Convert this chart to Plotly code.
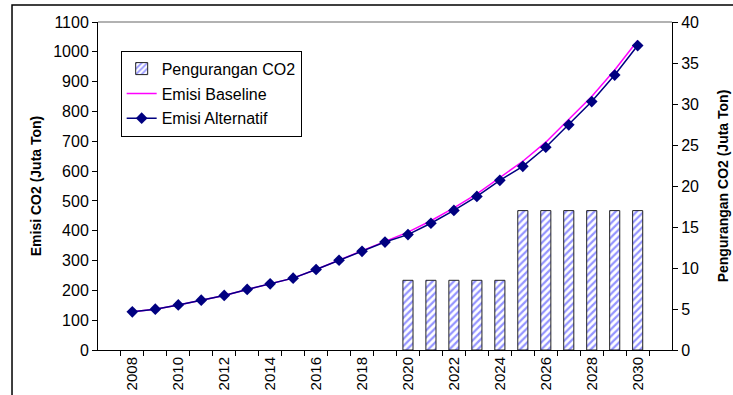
import plotly.graph_objects as go

years = [str(y) for y in range(2008, 2031)]

# Emisi CO2 (juta ton)
emisi_alternatif = [128, 137, 151, 167, 183, 203, 222, 241, 270, 301, 331, 362,
                    387, 425, 468, 515, 569, 616, 680, 755, 833, 922, 1021]
emisi_baseline = [128, 137, 151, 167, 183, 203, 222, 241, 270, 301, 331, 362,
                  395.5, 433.5, 476.5, 523.5, 577.5, 633, 697, 772, 850, 939, 1038]

# Pengurangan CO2 (juta ton), only from 2020 onwards
pengurangan = [None] * 12 + [8.5, 8.5, 8.5, 8.5, 8.5, 17, 17, 17, 17, 17, 17]

tick_text = [y if int(y) % 2 == 0 else "" for y in years]

FONT = "Liberation Sans, Arial, sans-serif"

fig = go.Figure()

fig.add_trace(go.Bar(
    x=years, y=pengurangan, name="Pengurangan CO2", yaxis="y2",
    width=0.44,
    marker=dict(
        color="white",
        line=dict(color="#222222", width=1),
        pattern=dict(shape="/", fgcolor="#2a2aff", bgcolor="white",
                     size=5, solidity=0.45),
    ),
    legendgroup="a",
))
fig.add_trace(go.Scatter(
    x=years, y=emisi_baseline, name="Emisi Baseline", mode="lines",
    line=dict(color="#ff00ff", width=1.5),
    legendgroup="b",
))
fig.add_trace(go.Scatter(
    x=years, y=emisi_alternatif, name="Emisi Alternatif", mode="lines+markers",
    line=dict(color="#000080", width=1.5),
    marker=dict(symbol="diamond", size=9, color="#000080"),
    legendgroup="c",
))

fig.update_layout(
    width=733, height=395,
    margin=dict(l=98, r=61, t=22, b=45),
    paper_bgcolor="white", plot_bgcolor="white",
    font=dict(family=FONT, size=15, color="black"),
    bargap=0.56,
    showlegend=True,
    legend=dict(
        x=0.0395, y=0.9125, xanchor="left", yanchor="top",
        bordercolor="black", borderwidth=1, bgcolor="white",
        font=dict(family=FONT, size=16),
        traceorder="grouped", tracegroupgap=1,
        itemwidth=30,
    ),
    xaxis=dict(
        type="category", tickmode="array", tickvals=years, ticktext=tick_text,
        tickangle=-90, tickson="boundaries", ticks="outside", ticklen=5,
        tickcolor="black", showline=True, linecolor="black", linewidth=1,
        showgrid=False, tickfont=dict(size=15), automargin=False,
    ),
    yaxis=dict(
        range=[0, 1100], dtick=100, ticks="outside", ticklen=5,
        tickcolor="black", showline=True, linecolor="black", linewidth=1,
        showgrid=False, zeroline=False, tickfont=dict(size=16), automargin=False,
        title=dict(text="<b>Emisi CO2 (Juta Ton)</b>", font=dict(size=14), standoff=8),
    ),
    yaxis2=dict(
        range=[0, 40], dtick=5, overlaying="y", side="right", ticks="outside",
        ticklen=5, tickcolor="black", showline=True, linecolor="black",
        linewidth=1, showgrid=False, zeroline=False, tickfont=dict(size=16),
        automargin=False,
        title=dict(text="<b>Pengurangan CO2 (Juta Ton)</b>", font=dict(size=14), standoff=20),
    ),
    shapes=[
        # top border of the plotting area
        dict(type="line", xref="paper", yref="paper", x0=0, x1=1, y0=1, y1=1,
             line=dict(color="#999999", width=1.5)),
        # outer frame of the chart
        dict(type="rect", xref="paper", yref="paper",
             x0=-0.1498, x1=1.3, y0=-0.5, y1=1.0518,
             line=dict(color="black", width=1.5)),
    ],
)

fig.write_html("out.html")
